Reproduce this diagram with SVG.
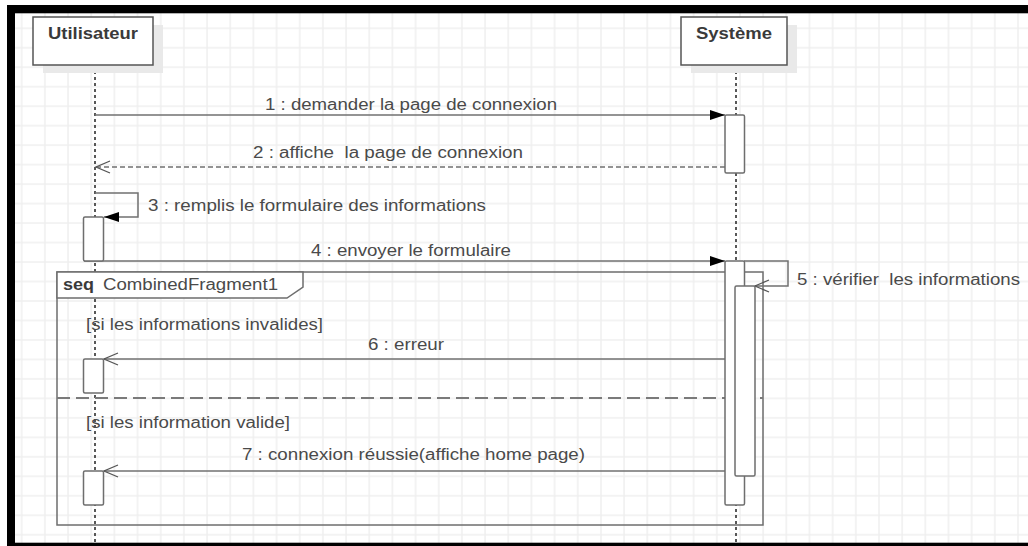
<svg xmlns="http://www.w3.org/2000/svg" width="1028" height="546" viewBox="0 0 1028 546">
<style>
.t{font-family:"Liberation Sans",Arial,sans-serif;font-size:16px;fill:#4a4a4a;white-space:pre}
.b{font-weight:bold;fill:#3a3a3a}
.ln{stroke:#707070;stroke-width:1.5;fill:none}
.act{stroke:#6e6e6e;stroke-width:1.5;fill:#ffffff}
.life{stroke:#222;stroke-width:1.5;stroke-dasharray:3 3;fill:none}
.hdr{stroke:#555;stroke-width:1.5;fill:#ffffff}
.shd{fill:#e9e9e9}
</style>
<defs>
<pattern id="grid" x="20.7" y="27.3" width="23.17" height="19.48" patternUnits="userSpaceOnUse">
<path d="M1 0 V19.48 M0 1 H23.17" stroke="#efefef" stroke-width="1.5" fill="none"/>
</pattern>
<marker id="fill" markerUnits="userSpaceOnUse" markerWidth="16" markerHeight="12" refX="15" refY="5" orient="auto" overflow="visible">
<path d="M0,0 L15,5 L0,10 Z" fill="#000"/>
</marker>
<marker id="open" markerUnits="userSpaceOnUse" markerWidth="16" markerHeight="14" refX="14" refY="6" orient="auto" overflow="visible">
<path d="M0,0 L14,6 L0,12" fill="none" stroke="#555" stroke-width="1.3"/>
</marker>
</defs>
<rect width="1028" height="546" fill="#fff"/>
<rect x="15" y="13" width="1013" height="530" fill="url(#grid)"/>

<g id="lifelines">
<line class="life" x1="95" y1="65" x2="95" y2="546"/>
<line class="life" x1="736" y1="65" x2="736" y2="546"/>
</g>

<g id="utilisateur">
<rect class="shd" x="43" y="25" width="120" height="48"/>
<rect class="hdr" x="33" y="17" width="120" height="48"/>
<text class="t b" x="48" y="38.5" textLength="90" lengthAdjust="spacingAndGlyphs">Utilisateur</text>
</g>
<g id="systeme">
<rect class="shd" x="691" y="25" width="106" height="48"/>
<rect class="hdr" x="681" y="17" width="106" height="48"/>
<text class="t b" x="696" y="38.5" textLength="76" lengthAdjust="spacingAndGlyphs">Système</text>
</g>

<g id="fragment">
<rect x="57" y="272" width="706" height="253" fill="none" stroke="#6e6e6e" stroke-width="1.5"/>
<path d="M57,272 H303 V287 L287,298 H57 Z" fill="#fff" stroke="#6e6e6e" stroke-width="1.5"/>
<text class="t b" x="63" y="290" textLength="31" lengthAdjust="spacingAndGlyphs">seq</text>
<text class="t" x="103" y="290" textLength="175" lengthAdjust="spacingAndGlyphs">CombinedFragment1</text>
<line x1="57" y1="398" x2="763" y2="398" stroke="#7a7a7a" stroke-width="1.8" stroke-dasharray="13 6"/>
<text class="t" x="86" y="330" textLength="237" lengthAdjust="spacingAndGlyphs">[si les informations invalides]</text>
<text class="t" x="86" y="428" textLength="204" lengthAdjust="spacingAndGlyphs">[si les information valide]</text>
</g>

<g id="connectors">
<line class="ln" x1="95" y1="115" x2="725" y2="115" marker-end="url(#fill)"/>
<text class="t" x="265" y="110" textLength="292" lengthAdjust="spacingAndGlyphs">1 : demander la page de connexion</text>
<line class="ln" x1="725" y1="167" x2="96" y2="167" stroke-dasharray="5 3" marker-end="url(#open)"/>
<text class="t" x="253" y="158" textLength="270" lengthAdjust="spacingAndGlyphs">2 : affiche  la page de connexion</text>
<polyline class="ln" points="95,193 138,193 138,217 104,217" marker-end="url(#fill)"/>
<text class="t" x="148" y="211" textLength="338" lengthAdjust="spacingAndGlyphs">3 : remplis le formulaire des informations</text>
<line class="ln" x1="84" y1="261" x2="725" y2="261" marker-end="url(#fill)"/>
<text class="t" x="311" y="256" textLength="200" lengthAdjust="spacingAndGlyphs">4 : envoyer le formulaire</text>
<polyline class="ln" points="744,261 788,261 788,286 755,286" marker-end="url(#open)"/>
<text class="t" x="797" y="285" textLength="223" lengthAdjust="spacingAndGlyphs">5 : vérifier  les informations</text>
<line class="ln" x1="735" y1="359" x2="104" y2="359" marker-end="url(#open)"/>
<text class="t" x="368" y="350" textLength="76" lengthAdjust="spacingAndGlyphs">6 : erreur</text>
<line class="ln" x1="735" y1="471" x2="104" y2="471" marker-end="url(#open)"/>
<text class="t" x="242" y="460" textLength="343" lengthAdjust="spacingAndGlyphs">7 : connexion réussie(affiche home page)</text>
</g>

<g id="activations">
<rect class="act" x="83.5" y="217" width="20" height="44" rx="1.5"/>
<rect class="act" x="83.5" y="359" width="20" height="34" rx="1.5"/>
<rect class="act" x="83.5" y="471" width="20" height="34" rx="1.5"/>
<rect class="act" x="725" y="115" width="19.5" height="58" rx="1.5"/>
<rect class="act" x="725" y="261" width="19.5" height="244" rx="1.5"/>
<rect class="act" x="735" y="286" width="20" height="190" rx="1.5"/>
</g>

<g id="frame">
<rect x="7" y="5" width="1021" height="8.3" fill="#000"/>
<rect x="7" y="5" width="8" height="541" fill="#000"/>
<rect x="7" y="542.7" width="1021" height="3.3" fill="#000"/>
</g>
</svg>
